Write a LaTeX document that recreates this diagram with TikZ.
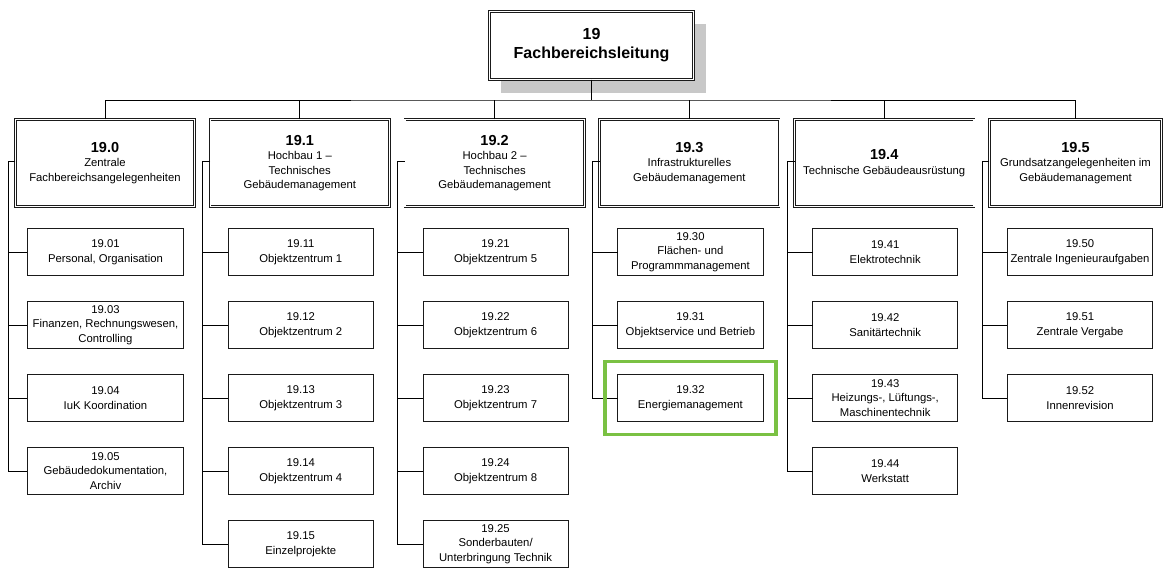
\documentclass[tikz,border=0pt]{standalone}
\usepackage{fontspec}
\setmainfont{Liberation Sans}
\usetikzlibrary{positioning,shadows,fit}
\definecolor{boxline}{HTML}{1A1A1A}
\definecolor{shade}{HTML}{C8C8C8}
\definecolor{hlgreen}{HTML}{7AC143}
\newcommand{\unitno}[1]{{\fontsize{14.5}{16}\selectfont\bfseries #1}}

\begin{document}
\begin{tikzpicture}[x=1pt,y=-1pt,font=\fontsize{11.3}{14.5}\selectfont,node distance=25.8pt,
  headbox/.style={draw=boxline,double,double distance=1.2pt,line width=0.7pt,fill=white,
    outer sep=0pt,inner sep=1pt,align=center},
  unitbox/.style={headbox,minimum width=179.4pt,minimum height=87.4pt},
  subbox/.style={draw=boxline,line width=0.8pt,fill=white,outer sep=0pt,inner sep=1pt,
    align=center,minimum width=145.2pt,minimum height=47.2pt},
  link/.style={draw=black,line width=0.8pt}]
  \useasboundingbox (0,0) rectangle (1165,569);

  % top
  \node[headbox,font=\fontsize{16}{19}\selectfont\bfseries,minimum width=204.4pt,minimum height=68.4pt,
        drop shadow={shadow xshift=12pt,shadow yshift=-13pt,fill=shade,opacity=1}] (head) at (591.5,45.5)
        {19\\Fachbereichsleitung};

  % departments
  \node[unitbox] (u0) at (105,163) {\unitno{19.0}\\Zentrale\\Fachbereichsangelegenheiten};
  \node[unitbox,right=15.4pt of u0] (u1) {\unitno{19.1}\\Hochbau 1 --\\Technisches\\Gebäudemanagement};
  \node[unitbox,right=15.4pt of u1] (u2) {\unitno{19.2}\\Hochbau 2 --\\Technisches\\Gebäudemanagement};
  \node[unitbox,right=15.4pt of u2] (u3) {\unitno{19.3}\\Infrastrukturelles\\Gebäudemanagement};
  \node[unitbox,right=15.4pt of u3] (u4) {\unitno{19.4}\\Technische Gebäudeausrüstung};
  \node[unitbox,minimum width=172.4pt,right=15.4pt of u4] (u5) {\unitno{19.5}\\Grundsatzangelegenheiten im\\Gebäudemanagement};

  % 19.0
  \node[subbox,minimum width=156.2pt,below right=21.7pt and 12.1pt of u0.south west] (s01) {19.01\\Personal, Organisation};
  \node[subbox,minimum width=156.2pt,below=of s01] (s03) {19.03\\Finanzen, Rechnungswesen,\\Controlling};
  \node[subbox,minimum width=156.2pt,below=of s03] (s04) {19.04\\IuK Koordination};
  \node[subbox,minimum width=156.2pt,below=of s04] (s05) {19.05\\Gebäudedokumentation,\\Archiv};

  % 19.1
  \node[subbox,below right=21.7pt and 18.1pt of u1.south west] (s11) {19.11\\Objektzentrum 1};
  \node[subbox,below=of s11] (s12) {19.12\\Objektzentrum 2};
  \node[subbox,below=of s12] (s13) {19.13\\Objektzentrum 3};
  \node[subbox,below=of s13] (s14) {19.14\\Objektzentrum 4};
  \node[subbox,below=of s14] (s15) {19.15\\Einzelprojekte};

  % 19.2
  \node[subbox,below right=21.7pt and 18.1pt of u2.south west] (s21) {19.21\\Objektzentrum 5};
  \node[subbox,below=of s21] (s22) {19.22\\Objektzentrum 6};
  \node[subbox,below=of s22] (s23) {19.23\\Objektzentrum 7};
  \node[subbox,below=of s23] (s24) {19.24\\Objektzentrum 8};
  \node[subbox,below=of s24] (s25) {19.25\\Sonderbauten/\\Unterbringung Technik};

  % 19.3
  \node[subbox,below right=21.7pt and 18.1pt of u3.south west] (s30) {19.30\\Flächen- und\\Programmmanagement};
  \node[subbox,below=of s30] (s31) {19.31\\Objektservice und Betrieb};
  \node[subbox,below=of s31] (s32) {19.32\\Energiemanagement};

  % 19.4
  \node[subbox,below right=21.7pt and 18.1pt of u4.south west] (s41) {19.41\\Elektrotechnik};
  \node[subbox,below=of s41] (s42) {19.42\\Sanitärtechnik};
  \node[subbox,below=of s42] (s43) {19.43\\Heizungs-, Lüftungs-,\\Maschinentechnik};
  \node[subbox,below=of s43] (s44) {19.44\\Werkstatt};

  % 19.5
  \node[subbox,below right=21.7pt and 18.1pt of u5.south west] (s50) {19.50\\Zentrale Ingenieuraufgaben};
  \node[subbox,below=of s50] (s51) {19.51\\Zentrale Vergabe};
  \node[subbox,below=of s51] (s52) {19.52\\Innenrevision};

  % bus
  \coordinate (bus) at (591.5,100);
  \draw[link] (head.south) -- (head.south |- bus);
  \draw[link] (u0.north) |- (bus) -| (u5.north);
  \foreach \u in {u1,u2,u3,u4} \draw[link] (\u.north) -- (\u.north |- bus);

  % trunks
  \foreach \u/\last/\rest in {u0/s05/{s01,s03,s04},u1/s15/{s11,s12,s13,s14},u2/s25/{s21,s22,s23,s24},
                               u3/s32/{s30,s31},u4/s44/{s41,s42,s43},u5/s52/{s50,s51}}{
    \coordinate (t\u) at ([xshift=-7.3pt,yshift=2pt]\u.west);
    \draw[link] ([yshift=2pt]\u.west) -- (t\u) |- (\last.west);
    \foreach \s in \rest \draw[link] (\s.west) -- (\s.west -| t\u);
  }

  % highlight
  \node[draw=hlgreen,line width=3.5pt,fit=(s32),inner sep=13pt] (hl) {};
\end{tikzpicture}
\end{document}
